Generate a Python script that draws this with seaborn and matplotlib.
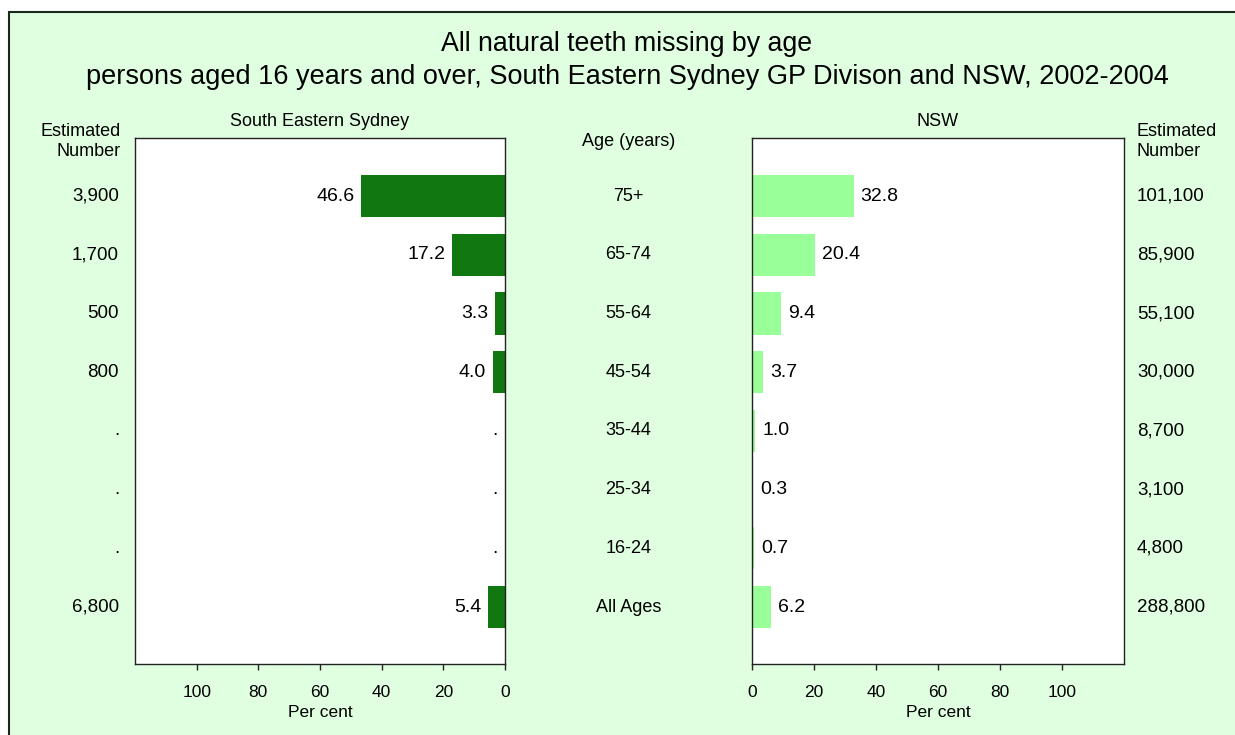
#치아 전부 상실 비율 (연령별) - 좌우 대칭 막대그래프
import numpy as np
import pandas as pd
import matplotlib
matplotlib.use("Agg")
import matplotlib.pyplot as plt
import seaborn as sns
from matplotlib.patches import Rectangle

# 데이터
age_groups = ["75+", "65-74", "55-64", "45-54", "35-44", "25-34", "16-24", "All Ages"]
sesyd_pct = [46.6, 17.2, 3.3, 4.0, np.nan, np.nan, np.nan, 5.4]
nsw_pct = [32.8, 20.4, 9.4, 3.7, 1.0, 0.3, 0.7, 6.2]
sesyd_num = ["3,900", "1,700", "500", "800", ".", ".", ".", "6,800"]
nsw_num = ["101,100", "85,900", "55,100", "30,000", "8,700", "3,100", "4,800", "288,800"]
x_ticks = [0, 20, 40, 60, 80, 100]

df = pd.DataFrame({"age": age_groups, "sesyd": sesyd_pct, "nsw": nsw_pct})

# 폰트/색 설정 (seaborn 스타일 뒤에)
sns.set_style("white")
plt.rcParams['font.family'] = ['Liberation Sans', 'DejaVu Sans']
plt.rcParams['text.color'] = 'black'
plt.rcParams['axes.labelcolor'] = 'black'

W, H = 1235, 735
fig = plt.figure(figsize=(12.35, 7.35), dpi=100)
fig.patch.set_facecolor("white")

# 연녹색 배경 + 테두리
fig.add_artist(Rectangle((9 / W, -0.1), 1.2, 1 - 12 / H + 0.1, transform=fig.transFigure,
                         facecolor="#E0FFE0", edgecolor="#1a2a1a", lw=1.5, zorder=0))

ax_top, ax_bot = 138, 664
ax_l = fig.add_axes([135 / W, 1 - ax_bot / H, 370 / W, (ax_bot - ax_top) / H])
ax_r = fig.add_axes([752 / W, 1 - ax_bot / H, 372 / W, (ax_bot - ax_top) / H])

sns.barplot(data=df, x="sesyd", y="age", orient="h", color="#117711", width=0.72,
            linewidth=0, saturation=1, errorbar=None, ax=ax_l)
sns.barplot(data=df, x="nsw", y="age", orient="h", color="#99FF99", width=0.72,
            linewidth=0, saturation=1, errorbar=None, ax=ax_r)

for ax in (ax_l, ax_r):
    ax.set_facecolor("white")
    ax.set_ylim(7.97, -0.99)
    ax.set_yticks([])
    ax.set_ylabel("")
    ax.set_xticks(x_ticks)
    ax.tick_params(axis="x", direction="out", length=4, width=1, pad=11,
                   labelsize=12.5, color="#222222", labelcolor="black", bottom=True)
    ax.set_xlabel("Per cent", fontsize=12.5, labelpad=4)
    for s in ax.spines.values():
        s.set_visible(True)
        s.set_color("#222222")
        s.set_linewidth(1)

ax_l.set_xlim(120, 0)
ax_r.set_xlim(0, 120)

# 값 라벨
for i, v in enumerate(sesyd_pct):
    lab = "." if np.isnan(v) else f"{v:.1f}"
    xv = 0 if np.isnan(v) else v
    ax_l.annotate(lab, xy=(xv, i), xytext=(-5, 0), textcoords="offset points",
                  ha="right", va="center", fontsize=14)
for i, v in enumerate(nsw_pct):
    ax_r.annotate(f"{v:.1f}", xy=(v, i), xytext=(5, 0), textcoords="offset points",
                  ha="left", va="center", fontsize=14)

# 연령 라벨 및 추정 인원
tl = ax_l.get_yaxis_transform()
tr = ax_r.get_yaxis_transform()
for i, age in enumerate(age_groups):
    ax_l.text((628.5 - 135) / 370, i, age, transform=tl, ha="center", va="center", fontsize=13)
    ax_l.text(-16 / 370, i, sesyd_num[i], transform=tl, ha="right", va="center", fontsize=13.5)
    ax_r.text(1 + 13 / 372, i, nsw_num[i], transform=tr, ha="left", va="center", fontsize=13.5)

ax_l.text((628.5 - 135) / 370, -0.93, "Age (years)", transform=tl, ha="center", va="center", fontsize=13)
ax_l.text(-14 / 370, -0.93, "Estimated\nNumber", transform=tl, ha="right", va="center",
          multialignment="right", fontsize=13, linespacing=1.3)
ax_r.text(1 + 12 / 372, -0.93, "Estimated\nNumber", transform=tr, ha="left", va="center",
          multialignment="left", fontsize=13, linespacing=1.3)

# 패널 제목
ax_l.text(0.5, 1 + 16 / 526, "South Eastern Sydney", transform=ax_l.transAxes,
          ha="center", va="center", fontsize=13)
ax_r.text(0.5, 1 + 16 / 526, "NSW", transform=ax_r.transAxes,
          ha="center", va="center", fontsize=13)

# 전체 제목
fig.text(627 / W, 1 - 44 / H, "All natural teeth missing by age", ha="center", va="center", fontsize=19.3)
fig.text(627 / W, 1 - 77 / H, "persons aged 16 years and over, South Eastern Sydney GP Divison and NSW, 2002-2004",
         ha="center", va="center", fontsize=19.5)

fig.savefig("out.png", dpi=100)
